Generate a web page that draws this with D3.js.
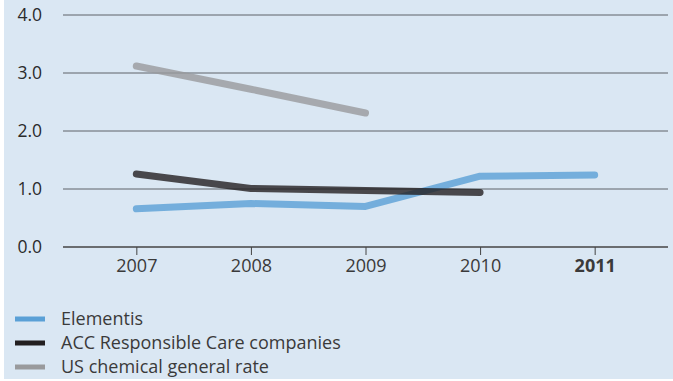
<!DOCTYPE html>
<html>
<head>
<meta charset="utf-8">
<script src="https://cdn.jsdelivr.net/npm/d3@7"></script>
<style>
  body { margin: 0; background: #fff; }
  svg { display: block; font-family: "Open Sans", sans-serif; }
</style>
</head>
<body>
<svg id="chart"></svg>
<script>
const years = [2007, 2008, 2009, 2010, 2011];
const yTicks = [0, 1, 2, 3, 4];
const seriesNames = ["Elementis", "ACC Responsible Care companies", "US chemical general rate"];
const seriesColors = ["#5aa0d6", "#231f20", "#999a9c"];
const elementis = [0.66, 0.75, 0.70, 1.22, 1.24];
const accCare = [1.26, 1.01, 0.975, 0.94, null];
const usChemical = [3.12, 2.72, 2.31, null, null];

const width = 673;
const height = 381;
const margin = {top: 15, right: 5, bottom: 134, left: 63};

const svg = d3.select('#chart')
  .attr('width', width)
  .attr('height', height);

// background panel, white strip at the left like the original
svg.append('rect')
  .attr('x', 4).attr('y', 0)
  .attr('width', width - 4).attr('height', height - 2)
  .attr('fill', '#dae7f3');

const g = svg.append('g')
  .attr('transform', `translate(${margin.left},${margin.top})`);

const innerW = width - margin.left - margin.right;
const innerH = height - margin.top - margin.bottom;

const xscale = d3.scalePoint().domain(years).range([0, innerW]).padding(0.64);
const yscale = d3.scaleLinear().domain([0, 4]).range([innerH, 0]);

// gridlines
g.selectAll('.grid').data(yTicks.filter((d) => d > 0)).enter().append('line')
  .attr('class', 'grid')
  .attr('x1', 0).attr('x2', innerW)
  .attr('y1', (d) => yscale(d)).attr('y2', (d) => yscale(d))
  .attr('stroke', '#5f6368').attr('stroke-width', 1);

// y labels
g.selectAll('.ylab').data(yTicks).enter().append('text')
  .attr('class', 'ylab')
  .attr('x', -21).attr('y', (d) => yscale(d))
  .attr('dy', '0.35em')
  .attr('text-anchor', 'end')
  .attr('fill', '#2b2b2b')
  .style('font-size', '17.5px')
  .text((d) => d.toFixed(1));

// x axis
const xaxis = d3.axisBottom(xscale).tickSize(8).tickPadding(4);
const g_xaxis = g.append('g')
  .attr('transform', `translate(0,${innerH})`)
  .call(xaxis);
g_xaxis.select('.domain').attr('d', `M0,0H${innerW}`).attr('stroke', '#444').attr('stroke-width', 1.3);
g_xaxis.selectAll('.tick line').attr('stroke', '#444');
g_xaxis.selectAll('.tick text')
  .attr('fill', '#3a3a3a')
  .style('font-size', '18px')
  .style('font-family', '"Open Sans", sans-serif')
  .style('font-weight', (d) => d === 2011 ? 700 : 400);

// lines (slightly transparent, as in the original where they overlap)
const line = d3.line()
  .defined((d) => d.v !== null)
  .x((d) => xscale(d.year))
  .y((d) => yscale(d.v));

const allSeries = [elementis, accCare, usChemical];
allSeries.forEach((vals, i) => {
  g.append('path')
    .datum(years.map((year, j) => ({year, v: vals[j]})))
    .attr('d', line)
    .attr('fill', 'none')
    .attr('stroke', seriesColors[i])
    .attr('stroke-width', 7)
    .attr('stroke-linecap', 'round')
    .attr('stroke-linejoin', 'round')
    .attr('opacity', 0.8);
});

// legend
const legend = svg.append('g').attr('transform', 'translate(15,319)');
const item = legend.selectAll('g').data(seriesNames).enter().append('g')
  .attr('transform', (d, i) => `translate(0,${i * 24})`);
item.append('line')
  .attr('x1', 0).attr('x2', 30)
  .attr('stroke', (d, i) => seriesColors[i])
  .attr('stroke-width', 5);
item.append('text')
  .attr('x', 46).attr('dy', '0.35em')
  .attr('fill', '#3a3a3a')
  .style('font-size', '18px')
  .text((d) => d);
</script>
</body>
</html>
